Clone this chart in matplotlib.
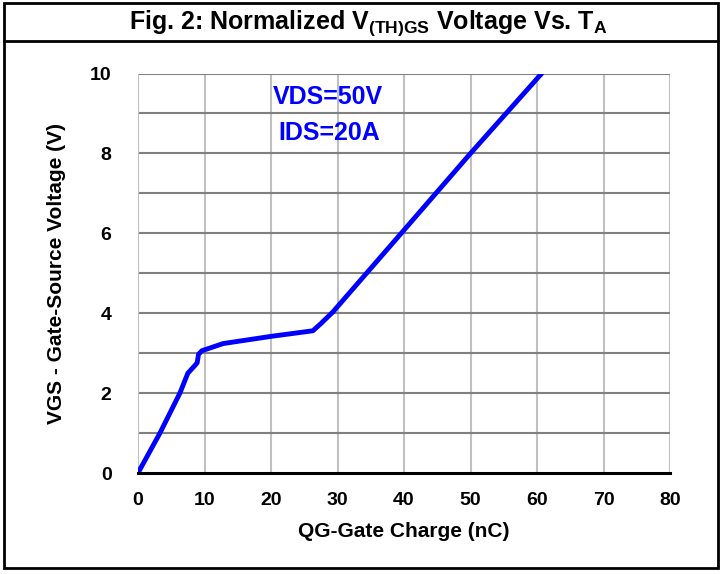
import matplotlib.pyplot as plt
from matplotlib.patches import Rectangle
from matplotlib.lines import Line2D

# gate charge curve
qg = [0, 3.3, 6.3, 7.5, 8.5, 8.9, 9.1, 9.6, 12.8, 20, 26.3, 27.5, 29.3, 40, 50, 60.7]
vgs = [0, 1.0, 2.0, 2.5, 2.68, 2.76, 2.97, 3.06, 3.24, 3.42, 3.56, 3.74, 4.03, 6.08, 8.0, 10.0]

x_ticks = [0, 10, 20, 30, 40, 50, 60, 70, 80]
y_ticks = [0, 2, 4, 6, 8, 10]
y_grid = [1, 2, 3, 4, 5, 6, 7, 8, 9, 10]

title = r"Fig. 2: Normalized V$_\mathbf{(TH)GS}$ Voltage Vs. T$_\mathbf{A}$"
notes = ["VDS=50V", "IDS=20A"]

plt.rcParams['font.family'] = ['Liberation Sans', 'DejaVu Sans']
plt.rcParams['font.weight'] = 'bold'
plt.rcParams['mathtext.fontset'] = 'custom'
plt.rcParams['mathtext.bf'] = 'Liberation Sans:bold'
plt.rcParams['mathtext.rm'] = 'Liberation Sans:bold'

W, H = 726, 574
fig = plt.figure(figsize=(W / 100, H / 100), dpi=100)

# outer frame and title box
fig.patches.append(Rectangle((4 / W, 1 - 568 / H), 714 / W, 565 / H, transform=fig.transFigure,
                             fill=False, edgecolor='black', linewidth=2))
fig.lines.append(Line2D([4 / W, 718 / W], [1 - 41 / H, 1 - 41 / H], transform=fig.transFigure,
                        color='black', linewidth=2))
fig.text(368 / W, 1 - 23 / H, title, ha='center', va='center', fontsize=18, fontweight='bold')

ax = fig.add_axes([138 / W, 1 - 473 / H, 532 / W, 399.5 / H])
ax.set_xlim(0, 80)
ax.set_ylim(0, 10)

for x in x_ticks[1:]:
    ax.axvline(x, color='#c0c0c0', linewidth=1.5, zorder=1)
for y in y_grid:
    ax.axhline(y, color='#808080', linewidth=1.5, zorder=1)
ax.axvline(0, color='#c0c0c0', linewidth=1.5, zorder=1)

ax.plot(qg, vgs, color='#0000ff', linewidth=3.5, solid_capstyle='round',
        solid_joinstyle='round', zorder=3)

for s in ['top', 'right', 'left']:
    ax.spines[s].set_visible(False)
ax.spines['bottom'].set_linewidth(2.2)
ax.spines['bottom'].set_zorder(4)

ax.set_xticks(x_ticks)
ax.set_yticks(y_ticks)
ax.tick_params(length=0, labelsize=14)
for lab in ax.get_xticklabels() + ax.get_yticklabels():
    lab.set_fontweight('bold')
ax.tick_params(axis='x', pad=14)
ax.tick_params(axis='y', pad=19)

ax.set_xlabel("QG-Gate Charge (nC)", fontsize=15, fontweight='bold', labelpad=9)
ax.set_ylabel("VGS - Gate-Source Voltage (V)", fontsize=15, fontweight='bold', labelpad=17)

ax.text(28.6, 9.42, notes[0], color='#0000ff', fontsize=18, fontweight='bold', ha='center', va='center')
ax.text(28.7, 8.52, notes[1], color='#0000ff', fontsize=18, fontweight='bold', ha='center', va='center')

fig.savefig('out.png', dpi=100)
